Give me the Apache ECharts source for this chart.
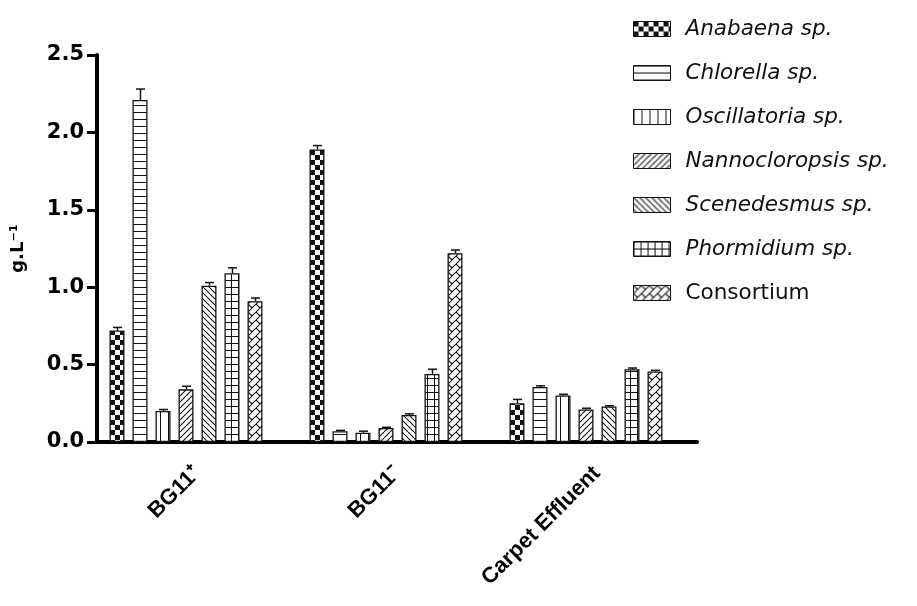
<!DOCTYPE html>
<html>
<head>
<meta charset="utf-8">
<script src="https://cdn.jsdelivr.net/npm/echarts@6/dist/echarts.min.js"></script>
<style>
  html, body { margin: 0; padding: 0; background: #fff; }
  #chart { width: 917px; height: 606px; }
</style>
</head>
<body>
<div id="chart"></div>
<script>
// ---- Data ----
const categories = ['BG11\u207A', 'BG11\u207B', 'Carpet Effluent'];
const speciesNames = ['Anabaena sp.', 'Chlorella sp.', 'Oscillatoria sp.', 'Nannocloropsis sp.', 'Scenedesmus sp.', 'Phormidium sp.', 'Consortium'];
const yTicks = [0, 0.5, 1.0, 1.5, 2.0, 2.5];

const anabaena        = [0.72, 1.89, 0.25];
const anabaenaErr     = [0.02, 0.025, 0.025];
const chlorella       = [2.21, 0.07, 0.355];
const chlorellaErr    = [0.07, 0.005, 0.008];
const oscillatoria    = [0.20, 0.06, 0.30];
const oscillatoriaErr = [0.01, 0.01, 0.008];
const nannocloropsis  = [0.34, 0.09, 0.21];
const nannoErr        = [0.02, 0.005, 0.008];
const scenedesmus     = [1.01, 0.175, 0.23];
const scenedesmusErr  = [0.02, 0.007, 0.004];
const phormidium      = [1.09, 0.44, 0.47];
const phormidiumErr   = [0.035, 0.03, 0.008];
const consortium      = [0.91, 1.22, 0.455];
const consortiumErr   = [0.02, 0.02, 0.008];

const seriesValues = [anabaena, chlorella, oscillatoria, nannocloropsis, scenedesmus, phormidium, consortium];
const seriesErrors = [anabaenaErr, chlorellaErr, oscillatoriaErr, nannoErr, scenedesmusErr, phormidiumErr, consortiumErr];
const patternKinds = ['checker', 'hlines', 'vlines', 'diagUp', 'diagDown', 'grid', 'zigzag'];

// ---- Styling helpers ----
const INK = '#111';
const BAR_W = 15;
const BAR_GAP = 8;
const PITCH = BAR_W + BAR_GAP;

function makePattern(kind) {
  const c = document.createElement('canvas');
  let w = 8, h = 8;
  if (kind === 'checker') { w = 10; h = 10; }
  if (kind === 'hlines') { w = 4; h = 7; }
  if (kind === 'vlines') { w = 8; h = 4; }
  if (kind === 'diagUp' || kind === 'diagDown') { w = 6; h = 6; }
  if (kind === 'grid') { w = 7; h = 7; }
  c.width = w; c.height = h;
  const ctx = c.getContext('2d');
  ctx.fillStyle = '#fff';
  ctx.fillRect(0, 0, w, h);
  ctx.fillStyle = INK;
  ctx.strokeStyle = INK;
  ctx.lineWidth = 1.1;
  if (kind === 'checker') {
    ctx.fillRect(0, 0, 5, 5);
    ctx.fillRect(5, 5, 5, 5);
  } else if (kind === 'hlines') {
    ctx.fillRect(0, 0, w, 1);
  } else if (kind === 'vlines') {
    ctx.fillRect(0, 0, 1, h);
  } else if (kind === 'grid') {
    ctx.fillRect(0, 0, w, 1);
    ctx.fillRect(0, 0, 1, h);
  } else if (kind === 'diagUp') {
    ctx.beginPath();
    [-w, 0, w].forEach(k => { ctx.moveTo(k, h); ctx.lineTo(k + w, 0); });
    ctx.stroke();
  } else if (kind === 'diagDown') {
    ctx.beginPath();
    [-w, 0, w].forEach(k => { ctx.moveTo(k, 0); ctx.lineTo(k + w, h); });
    ctx.stroke();
  } else if (kind === 'zigzag') {
    ctx.beginPath();
    [-w, 0, w].forEach(k => { ctx.moveTo(k, h); ctx.lineTo(k + w, 0); });
    ctx.moveTo(0, 0); ctx.lineTo(4, 4);
    ctx.stroke();
  }
  return { image: c, repeat: 'repeat' };
}

const barSeries = speciesNames.map((name, i) => ({
  name: name,
  type: 'bar',
  xAxisIndex: 0,
  yAxisIndex: 0,
  barWidth: BAR_W,
  barGap: (BAR_GAP / BAR_W * 100).toFixed(2) + '%',
  data: seriesValues[i],
  itemStyle: {
    color: makePattern(patternKinds[i]),
    borderColor: INK,
    borderWidth: 1.3
  },
  z: 2
}));

const errData = [];
seriesValues.forEach((vals, s) => {
  vals.forEach((v, c) => errData.push([c, s, v, seriesErrors[s][c]]));
});

const errSeries = {
  name: 'error',
  type: 'custom',
  xAxisIndex: 0,
  yAxisIndex: 0,
  data: errData,
  encode: { x: 0, y: 2 },
  z: 5,
  renderItem: function (params, api) {
    const c = api.value(0), s = api.value(1), v = api.value(2), e = api.value(3);
    const base = api.coord([c, v]);
    const top = api.coord([c, v + e]);
    const x = Math.round(base[0] + (s - 3) * PITCH) + 0.5;
    return {
      type: 'group',
      children: [
        { type: 'line', shape: { x1: x, y1: base[1], x2: x, y2: top[1] }, style: { stroke: INK, lineWidth: 1.5 } },
        { type: 'line', shape: { x1: x - 4.5, y1: top[1], x2: x + 4.5, y2: top[1] }, style: { stroke: INK, lineWidth: 1.5 } }
      ]
    };
  }
};

const chart = echarts.init(document.getElementById('chart'), null, { renderer: 'canvas' });
chart.setOption({
  animation: false,
  backgroundColor: '#fff',
  grid: [
    { left: 86, top: 55, width: 600, height: 387 },
    { left: 97, top: 55, width: 600, height: 387 }
  ],
  legend: {
    orient: 'vertical',
    left: 628,
    top: 13,
    itemWidth: 37,
    itemHeight: 15,
    itemGap: 22,
    selectedMode: false,
    icon: 'rect',
    itemStyle: { borderColor: INK, borderWidth: 1 },
    textStyle: { fontFamily: 'DejaVu Sans', fontSize: 21.5, color: INK, lineHeight: 22, padding: [0, 0, 0, 10] },
    data: speciesNames.map((n, i) => ({
      name: n,
      textStyle: { fontStyle: i < 6 ? 'italic' : 'normal' }
    }))
  },
  xAxis: [
    { type: 'category', gridIndex: 0, data: categories, show: false },
    {
      type: 'category', gridIndex: 1, data: categories,
      axisLine: { lineStyle: { color: '#000', width: 4 } },
      axisTick: { alignWithLabel: true, length: 10, lineStyle: { color: '#000', width: 4 } },
      axisLabel: {
        rotate: 45, margin: 28, color: '#000',
        fontFamily: 'Liberation Sans', fontWeight: 'bold', fontSize: 22
      }
    }
  ],
  yAxis: [
    { type: 'value', gridIndex: 0, min: 0, max: 2.5, show: false },
    {
      type: 'value', gridIndex: 1, min: yTicks[0], max: yTicks[yTicks.length - 1], interval: 0.5,
      splitLine: { show: false },
      axisLine: { show: true, lineStyle: { color: '#000', width: 4 } },
      axisTick: { show: true, length: 10, lineStyle: { color: '#000', width: 3 } },
      axisLabel: {
        margin: 13, color: '#000',
        fontFamily: 'DejaVu Sans', fontWeight: 'bold', fontSize: 21,
        formatter: v => v.toFixed(1)
      },
      name: 'g.L\u207B\u00B9',
      nameLocation: 'middle',
      nameGap: 70,
      nameTextStyle: { fontFamily: 'DejaVu Sans', fontWeight: 'bold', fontSize: 18, color: '#000' }
    }
  ],
  series: barSeries.concat([errSeries])
});
</script>
</body>
</html>
